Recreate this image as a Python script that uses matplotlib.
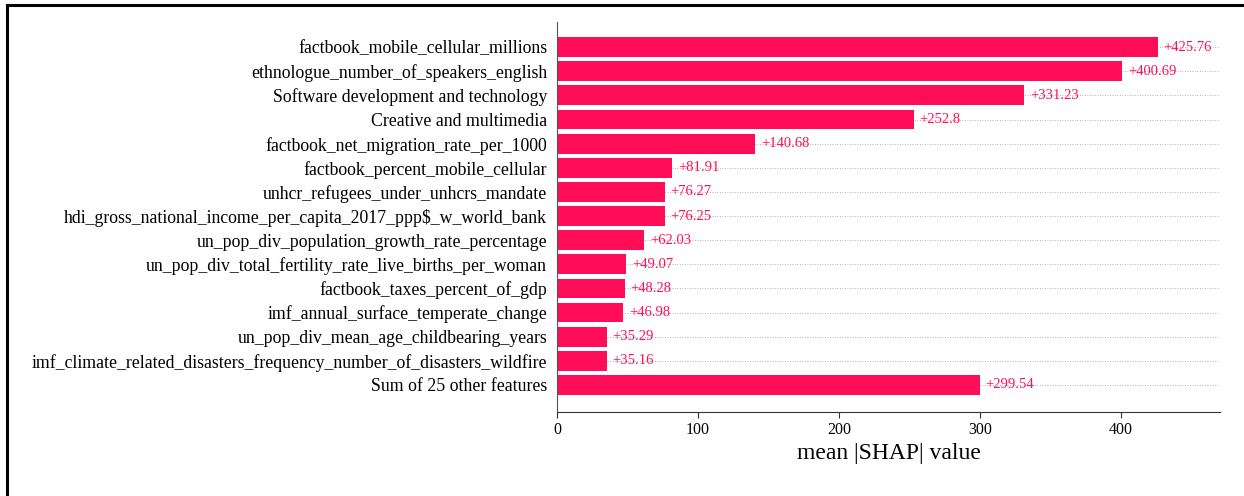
import numpy as np
import matplotlib
matplotlib.use("Agg")
import matplotlib.pyplot as plt
from matplotlib.lines import Line2D

plt.rcParams["font.family"] = ["Liberation Serif", "DejaVu Serif"]

# mean |SHAP| value per feature, top to bottom
features = [
    "factbook_mobile_cellular_millions",
    "ethnologue_number_of_speakers_english",
    "Software development and technology",
    "Creative and multimedia",
    "factbook_net_migration_rate_per_1000",
    "factbook_percent_mobile_cellular",
    "unhcr_refugees_under_unhcrs_mandate",
    "hdi_gross_national_income_per_capita_2017_ppp$_w_world_bank",
    "un_pop_div_population_growth_rate_percentage",
    "un_pop_div_total_fertility_rate_live_births_per_woman",
    "factbook_taxes_percent_of_gdp",
    "imf_annual_surface_temperate_change",
    "un_pop_div_mean_age_childbearing_years",
    "imf_climate_related_disasters_frequency_number_of_disasters_wildfire",
    "Sum of 25 other features",
]
values = [425.76, 400.69, 331.23, 252.8, 140.68, 81.91, 76.27, 76.25,
          62.03, 49.07, 48.28, 46.98, 35.29, 35.16, 299.54]
xticks = [0, 100, 200, 300, 400]

RED = "#FF0D57"

fig = plt.figure(figsize=(12.44, 4.96), dpi=100)
ax = fig.add_axes([0.4477, 0.1694, 0.9807 - 0.4477, 0.9556 - 0.1694])

n = len(values)
y_pos = np.arange(n)[::-1]

for y in y_pos:
    ax.axhline(y, color="#999999", lw=0.6, dashes=(1, 2), zorder=-1)

ax.barh(y_pos, values, height=0.82, color=RED, zorder=2)

for y, v in zip(y_pos, values):
    ax.text(v + 4, y, f"+{v:g}", color=RED, fontsize=10.5,
            va="center", ha="left")

ax.set_yticks(y_pos)
ax.set_yticklabels(features, fontsize=12.8)
ax.tick_params(axis="y", length=0, pad=7)
ax.set_xticks(xticks)
ax.tick_params(axis="x", labelsize=11.5, length=4, color="#333333")
ax.set_xlim(0, 470)
ax.set_ylim(-1.12, n - 1 + 1.04)
ax.set_xlabel("mean |SHAP| value", fontsize=17, labelpad=3)

for s in ["top", "right"]:
    ax.spines[s].set_visible(False)
ax.spines["left"].set_color("#555555")
ax.spines["bottom"].set_color("#333333")

# frame edges at top and left of the picture
fig.add_artist(Line2D([7 / 1244, 1.0], [1 - 5 / 496, 1 - 5 / 496],
                      transform=fig.transFigure, color="black", lw=2.2))
fig.add_artist(Line2D([7 / 1244, 7 / 1244], [0.0, 1 - 5 / 496],
                      transform=fig.transFigure, color="black", lw=2.2))

fig.savefig("out.png", dpi=100)
